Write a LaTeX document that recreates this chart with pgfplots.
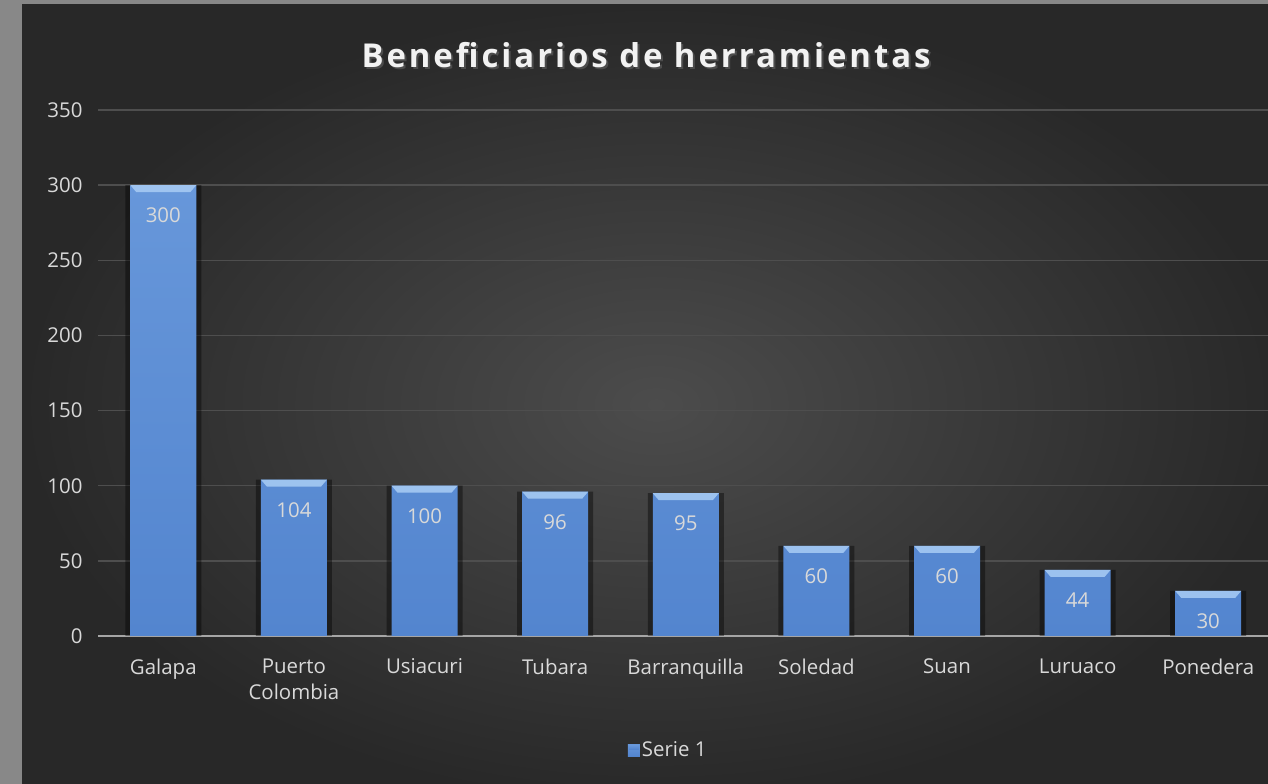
\documentclass[border=0pt]{standalone}
\usepackage{fontspec}
\setmainfont{Open Sans}
\newfontfamily\titlefont[LetterSpace=9]{Open Sans}
\usepackage{pgfplots}
\pgfplotsset{compat=1.18}
\definecolor{bgouter}{HTML}{888888}
\definecolor{panelin}{HTML}{4C4C4C}
\definecolor{panelout}{HTML}{282828}
\definecolor{gridcol}{HTML}{4E4E4E}
\definecolor{xaxiscol}{HTML}{A6A6A6}
\definecolor{labelcol}{HTML}{D9D9D9}
\definecolor{bartop}{HTML}{6797DA}
\definecolor{barbot}{HTML}{5385CF}
\definecolor{capcol}{HTML}{A9CDF5}
\pgfdeclareplotmark{cap}{%
  \pgfpathmoveto{\pgfqpoint{-33bp}{0bp}}%
  \pgfpathlineto{\pgfqpoint{33bp}{0bp}}%
  \pgfpathlineto{\pgfqpoint{27bp}{-7bp}}%
  \pgfpathlineto{\pgfqpoint{-27bp}{-7bp}}%
  \pgfpathclose
  \pgfusepathqfill}
\begin{document}
\begin{tikzpicture}[x=1bp,y=1bp]
\clip (0,0) rectangle (1268,784);
\fill[bgouter] (0,0) rectangle (1268,784);
\shade[inner color=panelin, outer color=panelout] (22,-20) rectangle (1290,779);
\node[text=black!70, font={\titlefont\fontsize{33}{40}\selectfont\bfseries}] at (648,727) {Beneficiarios de herramientas};
\node[text=white!95!black, font={\titlefont\fontsize{33}{40}\selectfont\bfseries}] at (646,729) {Beneficiarios de herramientas};
\begin{axis}[
  at={(98bp,148bp)}, anchor=south west,
  scale only axis, width=1175.6bp, height=526bp,
  xmin=-0.5, xmax=8.5, ymin=0, ymax=350,
  ytick={0,50,...,350},
  xtick={0,...,8},
  xticklabels={Galapa,{Puerto\\Colombia},Usiacuri,Tubara,Barranquilla,Soledad,Suan,Luruaco,Ponedera},
  axis x line*=bottom, axis y line*=left,
  y axis line style={draw=none},
  x axis line style={draw=xaxiscol, line width=2bp, -},
  major tick length=0pt,
  /pgf/number format/assume math mode=true,
  ymajorgrids, major grid style={draw=gridcol, line width=1.3bp},
  ticklabel style={text=labelcol, font=\fontsize{20.5}{27}\selectfont},
  xticklabel style={align=center, yshift=-19bp},
  yticklabel style={xshift=-12bp},
  legend style={at={(0.485,-0.217)}, anchor=center, draw=none, fill=none,
    text=labelcol, font=\fontsize{20.5}{25}\selectfont},
  legend image code/.code={\fill[barbot] (-5bp,-6bp) rectangle (7bp,6bp);
    \fill[capcol] (-4bp,1bp) rectangle (6bp,5bp);},
  clip=false,
]
\addplot[ybar, bar width=76bp, bar shift=0bp, fill=black, fill opacity=0.4, draw=none, forget plot]
  coordinates {(0,300) (1,104) (2,100) (3,96) (4,95) (5,60) (6,60) (7,44) (8,30)};
\addplot[ybar, bar width=66bp, bar shift=0bp, draw=none, top color=bartop, bottom color=barbot,
  nodes near coords, nodes near coords style={anchor=north, yshift=-19bp, text=labelcol, font=\fontsize{20.5}{25}\selectfont}]
  coordinates {(0,300) (1,104) (2,100) (3,96) (4,95) (5,60) (6,60) (7,44) (8,30)};
\addlegendentry{Serie 1}
\addplot[only marks, mark=cap, mark options={fill=capcol, draw=none, fill opacity=0.85}, forget plot]
  coordinates {(0,300) (1,104) (2,100) (3,96) (4,95) (5,60) (6,60) (7,44) (8,30)};
\end{axis}
\end{tikzpicture}
\end{document}
